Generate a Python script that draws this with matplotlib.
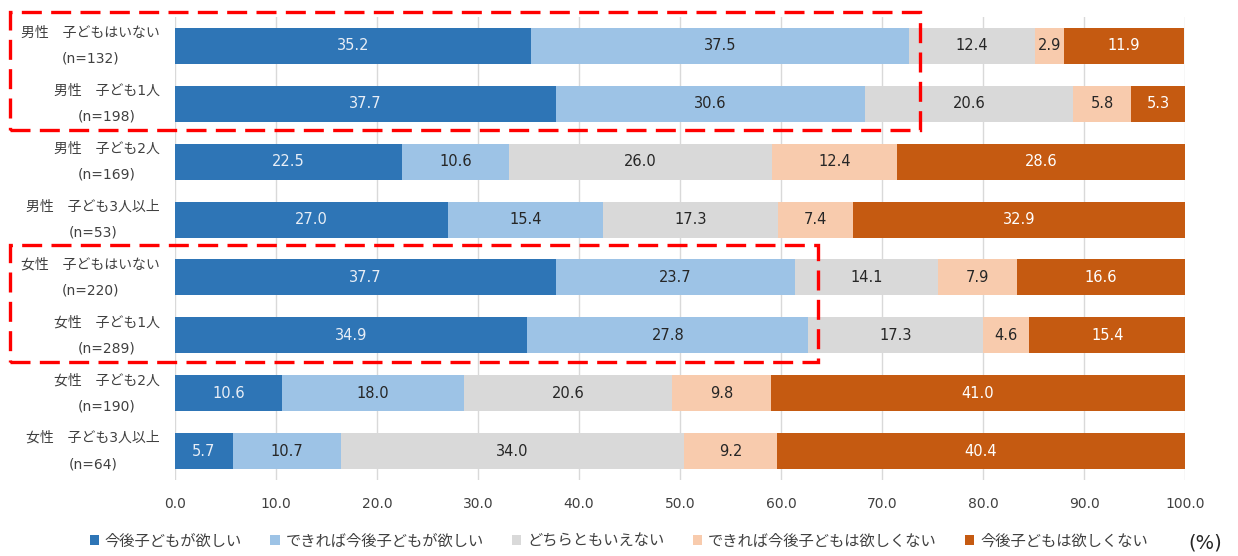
import matplotlib
matplotlib.use('Agg')
import matplotlib.pyplot as plt
from matplotlib.patches import Rectangle
import numpy as np

plt.rcParams['font.family'] = ['DejaVu Sans', 'Noto Sans CJK JP']

# rows, top to bottom
groups = ['男性　子どもはいない\n(n=132)', '男性　子ども1人\n(n=198)',
          '男性　子ども2人\n(n=169)', '男性　子ども3人以上\n(n=53)',
          '女性　子どもはいない\n(n=220)', '女性　子ども1人\n(n=289)',
          '女性　子ども2人\n(n=190)', '女性　子ども3人以上\n(n=64)']
answers = ['今後子どもが欲しい', 'できれば今後子どもが欲しい', 'どちらともいえない',
           'できれば今後子どもは欲しくない', '今後子どもは欲しくない']
want = [35.2, 37.7, 22.5, 27.0, 37.7, 34.9, 10.6, 5.7]
want_if_possible = [37.5, 30.6, 10.6, 15.4, 23.7, 27.8, 18.0, 10.7]
neither = [12.4, 20.6, 26.0, 17.3, 14.1, 17.3, 20.6, 34.0]
rather_not = [2.9, 5.8, 12.4, 7.4, 7.9, 4.6, 9.8, 9.2]
not_want = [11.9, 5.3, 28.6, 32.9, 16.6, 15.4, 41.0, 40.4]

series = [want, want_if_possible, neither, rather_not, not_want]
colors = ['#2E75B6', '#9DC3E6', '#D9D9D9', '#F8CBAD', '#C55A11']
text_colors = ['#E8EEF6', '#262626', '#262626', '#262626', '#FFFFFF']

fig = plt.figure(figsize=(12.38, 5.56), dpi=100)
ax = fig.add_axes([175 / 1238, 1 - 480 / 556, 1010 / 1238, 463 / 556])

y = np.arange(len(groups))
left = np.zeros(len(groups))
handles = []
for vals, name, c, tc in zip(series, answers, colors, text_colors):
    vals = np.array(vals)
    bars = ax.barh(y, vals, left=left, height=0.62, color=c, label=name, zorder=2)
    handles.append(bars)
    for yi, l, v in zip(y, left, vals):
        ax.text(l + v / 2, yi, f'{v:.1f}', ha='center', va='center',
                fontsize=10.5, color=tc, zorder=3)
    left += vals

ax.set_xlim(0, 100)
ax.set_ylim(len(groups) - 0.5, -0.5)
ax.set_xticks(np.arange(0, 101, 10))
ax.set_xticklabels([f'{t:.1f}' for t in np.arange(0, 101, 10)], fontsize=10, color='#404040')
ax.set_yticks(y)
ax.set_yticklabels(groups, fontsize=10, color='#404040', linespacing=2.1,
                   multialignment='center', va='center')
ax.tick_params(axis='x', length=0, pad=12)
ax.tick_params(axis='y', length=0, pad=11)
ax.xaxis.grid(True, color='#D9D9D9', linewidth=1, zorder=0)
ax.set_axisbelow(True)
for s in ax.spines.values():
    s.set_visible(False)

fig.legend(handles=handles, labels=answers, loc='center', bbox_to_anchor=(0.5, 1 - 541 / 556),
           ncol=5, frameon=False, fontsize=11, handlelength=0.6, handleheight=0.6,
           handletextpad=0.4, columnspacing=1.85, labelcolor='#404040')
fig.text(1205 / 1238, 1 - 543 / 556, '(%)', fontsize=14, ha='center', va='center', color='#262626')

# red dashed highlight boxes
for x0, y0, x1, y1 in [(10, 12, 920, 130), (10, 245, 818, 362)]:
    fig.patches.append(Rectangle((x0 / 1238, 1 - y1 / 556), (x1 - x0) / 1238, (y1 - y0) / 556,
                                 transform=fig.transFigure, fill=False, edgecolor='#FF0000',
                                 linewidth=2.4, linestyle=(0, (6, 2.8)), zorder=5))

fig.savefig('out.png', dpi=100)
